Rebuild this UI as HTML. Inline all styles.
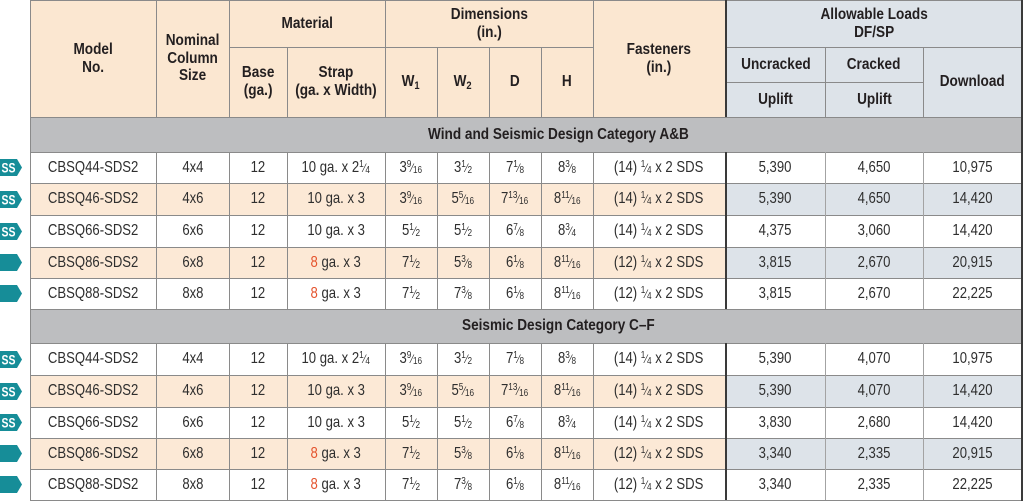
<!DOCTYPE html>
<html><head><meta charset="utf-8"><style>
*{margin:0;padding:0;box-sizing:border-box}
body{width:1024px;height:502px;background:#fff;position:relative;overflow:hidden;font-family:"Liberation Sans",Arial,sans-serif;color:#2e2e2e}
.bg{position:absolute}
.r{position:absolute;left:0;width:1024px}
.c{position:absolute;top:0;bottom:0;display:flex;align-items:center;justify-content:center;text-align:center;font-size:16px;white-space:nowrap}
.c>span{display:inline-block;transform:scaleX(.82);transform-origin:center}
.hd{font-weight:bold;color:#231f20;line-height:18px}
.hd>span{transform:scaleX(.85)}
.m{left:30px;width:126px}.n{left:156px;width:73px}.b{left:229px;width:58px}.s{left:287px;width:98px}
.w1{left:385px;width:52px}.w2{left:437px;width:52px}.d{left:489px;width:52px}.h{left:541px;width:52px}
.f{left:593px;width:132px}.u{left:726px;width:99px}.k{left:825px;width:98px}.dl{left:923px;width:99px}
.hl{position:absolute;height:1px;background:#8a8a8a}
.vl{position:absolute;width:1px;background:#8a8a8a}
.dk{background:#3a3a3a;width:2px}
.lt{background:#a3a3a3}
.fr{font-size:10px}
.fr .nu{position:relative;top:-5px}
.fr .sl{font-size:12px}
.fr .de{position:relative;top:1px}
.red{color:#e5532d}
.sec{font-weight:bold;color:#231f20;font-size:16px}
.ic{position:absolute;left:0}
sub.w{font-size:11px;position:relative;top:3px;vertical-align:baseline}
</style></head><body>

<!-- backgrounds -->
<div class="bg" style="left:30px;top:0;width:695px;height:117px;background:#fbe7d1"></div>
<div class="bg" style="left:725px;top:0;width:297px;height:117px;background:#dde3e9"></div>
<div class="bg" style="left:30px;top:117px;width:992px;height:35px;background:#bdbec0"></div>
<div class="bg" style="left:30px;top:309px;width:992px;height:34px;background:#bdbec0"></div>
<div class="bg" style="left:30px;top:183px;width:695px;height:32px;background:#fce9d6"></div>
<div class="bg" style="left:725px;top:183px;width:297px;height:32px;background:#dde3e9"></div>
<div class="bg" style="left:30px;top:247px;width:695px;height:31px;background:#fce9d6"></div>
<div class="bg" style="left:725px;top:247px;width:297px;height:31px;background:#dde3e9"></div>
<div class="bg" style="left:30px;top:375px;width:695px;height:32px;background:#fce9d6"></div>
<div class="bg" style="left:725px;top:375px;width:297px;height:32px;background:#dde3e9"></div>
<div class="bg" style="left:30px;top:438px;width:695px;height:31px;background:#fce9d6"></div>
<div class="bg" style="left:725px;top:438px;width:297px;height:31px;background:#dde3e9"></div>

<!-- horizontal lines -->
<div class="hl" style="left:30px;width:992px;top:0"></div>
<div class="hl" style="left:229px;width:364px;top:47px"></div>
<div class="hl" style="left:725px;width:297px;top:47px"></div>
<div class="hl" style="left:725px;width:198px;top:82px"></div>
<div class="hl" style="left:30px;width:992px;top:117px"></div>
<div class="hl" style="left:30px;width:992px;top:152px"></div>
<div class="hl" style="left:30px;width:992px;top:183px"></div>
<div class="hl" style="left:30px;width:992px;top:215px"></div>
<div class="hl" style="left:30px;width:992px;top:247px"></div>
<div class="hl" style="left:30px;width:992px;top:278px"></div>
<div class="hl" style="left:30px;width:992px;top:309px"></div>
<div class="hl" style="left:30px;width:992px;top:343px"></div>
<div class="hl" style="left:30px;width:992px;top:375px"></div>
<div class="hl" style="left:30px;width:992px;top:407px"></div>
<div class="hl" style="left:30px;width:992px;top:438px"></div>
<div class="hl" style="left:30px;width:992px;top:469px"></div>
<div class="hl" style="left:30px;width:992px;top:500px"></div>

<!-- vertical lines header -->
<div class="vl" style="left:30px;top:0;height:501px"></div>
<div class="vl" style="left:156px;top:0;height:117px"></div>
<div class="vl" style="left:229px;top:0;height:117px"></div>
<div class="vl" style="left:287px;top:47px;height:70px"></div>
<div class="vl" style="left:385px;top:0;height:117px"></div>
<div class="vl" style="left:437px;top:47px;height:70px"></div>
<div class="vl" style="left:489px;top:47px;height:70px"></div>
<div class="vl" style="left:541px;top:47px;height:70px"></div>
<div class="vl" style="left:593px;top:0;height:117px"></div>
<div class="vl dk" style="left:725px;top:0;height:117px"></div>
<div class="vl" style="left:825px;top:47px;height:70px"></div>
<div class="vl" style="left:923px;top:47px;height:70px"></div>
<div class="vl dk" style="left:1021px;top:0;height:501px"></div>

<!-- vertical lines data 1 -->
<div class="vl" style="left:156px;top:152px;height:157px"></div>
<div class="vl" style="left:229px;top:152px;height:157px"></div>
<div class="vl" style="left:287px;top:152px;height:157px"></div>
<div class="vl" style="left:385px;top:152px;height:157px"></div>
<div class="vl" style="left:437px;top:152px;height:157px"></div>
<div class="vl" style="left:489px;top:152px;height:157px"></div>
<div class="vl" style="left:541px;top:152px;height:157px"></div>
<div class="vl" style="left:593px;top:152px;height:157px"></div>
<div class="vl dk" style="left:725px;top:152px;height:157px"></div>
<div class="vl lt" style="left:825px;top:152px;height:157px"></div>
<div class="vl lt" style="left:923px;top:152px;height:157px"></div>
<!-- vertical lines data 2 -->
<div class="vl" style="left:156px;top:343px;height:157px"></div>
<div class="vl" style="left:229px;top:343px;height:157px"></div>
<div class="vl" style="left:287px;top:343px;height:157px"></div>
<div class="vl" style="left:385px;top:343px;height:157px"></div>
<div class="vl" style="left:437px;top:343px;height:157px"></div>
<div class="vl" style="left:489px;top:343px;height:157px"></div>
<div class="vl" style="left:541px;top:343px;height:157px"></div>
<div class="vl" style="left:593px;top:343px;height:157px"></div>
<div class="vl dk" style="left:725px;top:343px;height:157px"></div>
<div class="vl lt" style="left:825px;top:343px;height:157px"></div>
<div class="vl lt" style="left:923px;top:343px;height:157px"></div>

<!-- header text -->
<div class="r" style="top:0;height:117px">
 <div class="c hd m"><span>Model<br>No.</span></div>
 <div class="c hd n" style="line-height:17.5px"><span>Nominal<br>Column<br>Size</span></div>
 <div class="c hd f"><span>Fasteners<br>(in.)</span></div>
</div>
<div class="r" style="top:0;height:47px">
 <div class="c hd" style="left:229px;width:156px"><span>Material</span></div>
 <div class="c hd" style="left:385px;width:208px"><span>Dimensions<br>(in.)</span></div>
 <div class="c hd" style="left:726px;width:296px"><span>Allowable Loads<br>DF/SP</span></div>
</div>
<div class="r" style="top:47px;height:70px">
 <div class="c hd b"><span>Base<br>(ga.)</span></div>
 <div class="c hd s"><span>Strap<br>(ga. x Width)</span></div>
 <div class="c hd w1"><span>W<sub class="w">1</sub></span></div>
 <div class="c hd w2"><span>W<sub class="w">2</sub></span></div>
 <div class="c hd d"><span>D</span></div>
 <div class="c hd h"><span>H</span></div>
 <div class="c hd dl"><span>Download</span></div>
</div>
<div class="r" style="top:47px;height:35px">
 <div class="c hd u"><span>Uncracked</span></div>
 <div class="c hd k"><span>Cracked</span></div>
</div>
<div class="r" style="top:82px;height:35px">
 <div class="c hd u"><span>Uplift</span></div>
 <div class="c hd k"><span>Uplift</span></div>
</div>

<!-- section headers -->
<div class="r" style="top:117px;height:35px">
 <div class="c sec" style="left:94px;width:928px"><span style="transform:scaleX(.85)">Wind and Seismic Design Category A&amp;B</span></div>
</div>
<div class="r" style="top:309px;height:34px">
 <div class="c sec" style="left:94px;width:928px"><span style="transform:scaleX(.85)">Seismic Design Category C–F</span></div>
</div>

<!-- icons -->
<svg class="ic" style="top:159px" width="23" height="17" viewBox="0 0 23 17"><polygon points="0,0 17,0 22,8.5 17,17 0,17" fill="#168d98"/><text x="8.5" y="13.5" text-anchor="middle" font-family="Liberation Sans, sans-serif" font-weight="bold" font-size="14" fill="#fff" textLength="14" lengthAdjust="spacingAndGlyphs">SS</text></svg>
<svg class="ic" style="top:191px" width="23" height="17" viewBox="0 0 23 17"><polygon points="0,0 17,0 22,8.5 17,17 0,17" fill="#168d98"/><text x="8.5" y="13.5" text-anchor="middle" font-family="Liberation Sans, sans-serif" font-weight="bold" font-size="14" fill="#fff" textLength="14" lengthAdjust="spacingAndGlyphs">SS</text></svg>
<svg class="ic" style="top:223px" width="23" height="17" viewBox="0 0 23 17"><polygon points="0,0 17,0 22,8.5 17,17 0,17" fill="#168d98"/><text x="8.5" y="13.5" text-anchor="middle" font-family="Liberation Sans, sans-serif" font-weight="bold" font-size="14" fill="#fff" textLength="14" lengthAdjust="spacingAndGlyphs">SS</text></svg>
<svg class="ic" style="top:254px" width="23" height="17" viewBox="0 0 23 17"><polygon points="0,0 17,0 22,8.5 17,17 0,17" fill="#168d98"/></svg>
<svg class="ic" style="top:285px" width="23" height="17" viewBox="0 0 23 17"><polygon points="0,0 17,0 22,8.5 17,17 0,17" fill="#168d98"/></svg>
<svg class="ic" style="top:351px" width="23" height="17" viewBox="0 0 23 17"><polygon points="0,0 17,0 22,8.5 17,17 0,17" fill="#168d98"/><text x="8.5" y="13.5" text-anchor="middle" font-family="Liberation Sans, sans-serif" font-weight="bold" font-size="14" fill="#fff" textLength="14" lengthAdjust="spacingAndGlyphs">SS</text></svg>
<svg class="ic" style="top:383px" width="23" height="17" viewBox="0 0 23 17"><polygon points="0,0 17,0 22,8.5 17,17 0,17" fill="#168d98"/><text x="8.5" y="13.5" text-anchor="middle" font-family="Liberation Sans, sans-serif" font-weight="bold" font-size="14" fill="#fff" textLength="14" lengthAdjust="spacingAndGlyphs">SS</text></svg>
<svg class="ic" style="top:414px" width="23" height="17" viewBox="0 0 23 17"><polygon points="0,0 17,0 22,8.5 17,17 0,17" fill="#168d98"/><text x="8.5" y="13.5" text-anchor="middle" font-family="Liberation Sans, sans-serif" font-weight="bold" font-size="14" fill="#fff" textLength="14" lengthAdjust="spacingAndGlyphs">SS</text></svg>
<svg class="ic" style="top:445px" width="23" height="17" viewBox="0 0 23 17"><polygon points="0,0 17,0 22,8.5 17,17 0,17" fill="#168d98"/></svg>
<svg class="ic" style="top:476px" width="23" height="17" viewBox="0 0 23 17"><polygon points="0,0 17,0 22,8.5 17,17 0,17" fill="#168d98"/></svg>

<!-- section 1 data -->
<div class="r" style="top:152px;height:31px">
 <div class="c m"><span>CBSQ44-SDS2</span></div><div class="c n"><span>4x4</span></div><div class="c b"><span>12</span></div>
 <div class="c s"><span>10 ga. x 2<span class="fr"><span class="nu">1</span><span class="sl">⁄</span><span class="de">4</span></span></span></div>
 <div class="c w1"><span>3<span class="fr"><span class="nu">9</span><span class="sl">⁄</span><span class="de">16</span></span></span></div>
 <div class="c w2"><span>3<span class="fr"><span class="nu">1</span><span class="sl">⁄</span><span class="de">2</span></span></span></div>
 <div class="c d"><span>7<span class="fr"><span class="nu">1</span><span class="sl">⁄</span><span class="de">8</span></span></span></div>
 <div class="c h"><span>8<span class="fr"><span class="nu">3</span><span class="sl">⁄</span><span class="de">8</span></span></span></div>
 <div class="c f"><span>(14) <span class="fr"><span class="nu">1</span><span class="sl">⁄</span><span class="de">4</span></span> x 2 SDS</span></div>
 <div class="c u"><span>5,390</span></div><div class="c k"><span>4,650</span></div><div class="c dl"><span>10,975</span></div>
</div>
<div class="r" style="top:183px;height:32px">
 <div class="c m"><span>CBSQ46-SDS2</span></div><div class="c n"><span>4x6</span></div><div class="c b"><span>12</span></div>
 <div class="c s"><span>10 ga. x 3</span></div>
 <div class="c w1"><span>3<span class="fr"><span class="nu">9</span><span class="sl">⁄</span><span class="de">16</span></span></span></div>
 <div class="c w2"><span>5<span class="fr"><span class="nu">5</span><span class="sl">⁄</span><span class="de">16</span></span></span></div>
 <div class="c d"><span>7<span class="fr"><span class="nu">13</span><span class="sl">⁄</span><span class="de">16</span></span></span></div>
 <div class="c h"><span>8<span class="fr"><span class="nu">11</span><span class="sl">⁄</span><span class="de">16</span></span></span></div>
 <div class="c f"><span>(14) <span class="fr"><span class="nu">1</span><span class="sl">⁄</span><span class="de">4</span></span> x 2 SDS</span></div>
 <div class="c u"><span>5,390</span></div><div class="c k"><span>4,650</span></div><div class="c dl"><span>14,420</span></div>
</div>
<div class="r" style="top:215px;height:32px">
 <div class="c m"><span>CBSQ66-SDS2</span></div><div class="c n"><span>6x6</span></div><div class="c b"><span>12</span></div>
 <div class="c s"><span>10 ga. x 3</span></div>
 <div class="c w1"><span>5<span class="fr"><span class="nu">1</span><span class="sl">⁄</span><span class="de">2</span></span></span></div>
 <div class="c w2"><span>5<span class="fr"><span class="nu">1</span><span class="sl">⁄</span><span class="de">2</span></span></span></div>
 <div class="c d"><span>6<span class="fr"><span class="nu">7</span><span class="sl">⁄</span><span class="de">8</span></span></span></div>
 <div class="c h"><span>8<span class="fr"><span class="nu">3</span><span class="sl">⁄</span><span class="de">4</span></span></span></div>
 <div class="c f"><span>(14) <span class="fr"><span class="nu">1</span><span class="sl">⁄</span><span class="de">4</span></span> x 2 SDS</span></div>
 <div class="c u"><span>4,375</span></div><div class="c k"><span>3,060</span></div><div class="c dl"><span>14,420</span></div>
</div>
<div class="r" style="top:247px;height:31px">
 <div class="c m"><span>CBSQ86-SDS2</span></div><div class="c n"><span>6x8</span></div><div class="c b"><span>12</span></div>
 <div class="c s"><span><span class="red">8</span> ga. x 3</span></div>
 <div class="c w1"><span>7<span class="fr"><span class="nu">1</span><span class="sl">⁄</span><span class="de">2</span></span></span></div>
 <div class="c w2"><span>5<span class="fr"><span class="nu">3</span><span class="sl">⁄</span><span class="de">8</span></span></span></div>
 <div class="c d"><span>6<span class="fr"><span class="nu">1</span><span class="sl">⁄</span><span class="de">8</span></span></span></div>
 <div class="c h"><span>8<span class="fr"><span class="nu">11</span><span class="sl">⁄</span><span class="de">16</span></span></span></div>
 <div class="c f"><span>(12) <span class="fr"><span class="nu">1</span><span class="sl">⁄</span><span class="de">4</span></span> x 2 SDS</span></div>
 <div class="c u"><span>3,815</span></div><div class="c k"><span>2,670</span></div><div class="c dl"><span>20,915</span></div>
</div>
<div class="r" style="top:278px;height:31px">
 <div class="c m"><span>CBSQ88-SDS2</span></div><div class="c n"><span>8x8</span></div><div class="c b"><span>12</span></div>
 <div class="c s"><span><span class="red">8</span> ga. x 3</span></div>
 <div class="c w1"><span>7<span class="fr"><span class="nu">1</span><span class="sl">⁄</span><span class="de">2</span></span></span></div>
 <div class="c w2"><span>7<span class="fr"><span class="nu">3</span><span class="sl">⁄</span><span class="de">8</span></span></span></div>
 <div class="c d"><span>6<span class="fr"><span class="nu">1</span><span class="sl">⁄</span><span class="de">8</span></span></span></div>
 <div class="c h"><span>8<span class="fr"><span class="nu">11</span><span class="sl">⁄</span><span class="de">16</span></span></span></div>
 <div class="c f"><span>(12) <span class="fr"><span class="nu">1</span><span class="sl">⁄</span><span class="de">4</span></span> x 2 SDS</span></div>
 <div class="c u"><span>3,815</span></div><div class="c k"><span>2,670</span></div><div class="c dl"><span>22,225</span></div>
</div>

<!-- section 2 data -->
<div class="r" style="top:343px;height:32px">
 <div class="c m"><span>CBSQ44-SDS2</span></div><div class="c n"><span>4x4</span></div><div class="c b"><span>12</span></div>
 <div class="c s"><span>10 ga. x 2<span class="fr"><span class="nu">1</span><span class="sl">⁄</span><span class="de">4</span></span></span></div>
 <div class="c w1"><span>3<span class="fr"><span class="nu">9</span><span class="sl">⁄</span><span class="de">16</span></span></span></div>
 <div class="c w2"><span>3<span class="fr"><span class="nu">1</span><span class="sl">⁄</span><span class="de">2</span></span></span></div>
 <div class="c d"><span>7<span class="fr"><span class="nu">1</span><span class="sl">⁄</span><span class="de">8</span></span></span></div>
 <div class="c h"><span>8<span class="fr"><span class="nu">3</span><span class="sl">⁄</span><span class="de">8</span></span></span></div>
 <div class="c f"><span>(14) <span class="fr"><span class="nu">1</span><span class="sl">⁄</span><span class="de">4</span></span> x 2 SDS</span></div>
 <div class="c u"><span>5,390</span></div><div class="c k"><span>4,070</span></div><div class="c dl"><span>10,975</span></div>
</div>
<div class="r" style="top:375px;height:32px">
 <div class="c m"><span>CBSQ46-SDS2</span></div><div class="c n"><span>4x6</span></div><div class="c b"><span>12</span></div>
 <div class="c s"><span>10 ga. x 3</span></div>
 <div class="c w1"><span>3<span class="fr"><span class="nu">9</span><span class="sl">⁄</span><span class="de">16</span></span></span></div>
 <div class="c w2"><span>5<span class="fr"><span class="nu">5</span><span class="sl">⁄</span><span class="de">16</span></span></span></div>
 <div class="c d"><span>7<span class="fr"><span class="nu">13</span><span class="sl">⁄</span><span class="de">16</span></span></span></div>
 <div class="c h"><span>8<span class="fr"><span class="nu">11</span><span class="sl">⁄</span><span class="de">16</span></span></span></div>
 <div class="c f"><span>(14) <span class="fr"><span class="nu">1</span><span class="sl">⁄</span><span class="de">4</span></span> x 2 SDS</span></div>
 <div class="c u"><span>5,390</span></div><div class="c k"><span>4,070</span></div><div class="c dl"><span>14,420</span></div>
</div>
<div class="r" style="top:407px;height:31px">
 <div class="c m"><span>CBSQ66-SDS2</span></div><div class="c n"><span>6x6</span></div><div class="c b"><span>12</span></div>
 <div class="c s"><span>10 ga. x 3</span></div>
 <div class="c w1"><span>5<span class="fr"><span class="nu">1</span><span class="sl">⁄</span><span class="de">2</span></span></span></div>
 <div class="c w2"><span>5<span class="fr"><span class="nu">1</span><span class="sl">⁄</span><span class="de">2</span></span></span></div>
 <div class="c d"><span>6<span class="fr"><span class="nu">7</span><span class="sl">⁄</span><span class="de">8</span></span></span></div>
 <div class="c h"><span>8<span class="fr"><span class="nu">3</span><span class="sl">⁄</span><span class="de">4</span></span></span></div>
 <div class="c f"><span>(14) <span class="fr"><span class="nu">1</span><span class="sl">⁄</span><span class="de">4</span></span> x 2 SDS</span></div>
 <div class="c u"><span>3,830</span></div><div class="c k"><span>2,680</span></div><div class="c dl"><span>14,420</span></div>
</div>
<div class="r" style="top:438px;height:31px">
 <div class="c m"><span>CBSQ86-SDS2</span></div><div class="c n"><span>6x8</span></div><div class="c b"><span>12</span></div>
 <div class="c s"><span><span class="red">8</span> ga. x 3</span></div>
 <div class="c w1"><span>7<span class="fr"><span class="nu">1</span><span class="sl">⁄</span><span class="de">2</span></span></span></div>
 <div class="c w2"><span>5<span class="fr"><span class="nu">3</span><span class="sl">⁄</span><span class="de">8</span></span></span></div>
 <div class="c d"><span>6<span class="fr"><span class="nu">1</span><span class="sl">⁄</span><span class="de">8</span></span></span></div>
 <div class="c h"><span>8<span class="fr"><span class="nu">11</span><span class="sl">⁄</span><span class="de">16</span></span></span></div>
 <div class="c f"><span>(12) <span class="fr"><span class="nu">1</span><span class="sl">⁄</span><span class="de">4</span></span> x 2 SDS</span></div>
 <div class="c u"><span>3,340</span></div><div class="c k"><span>2,335</span></div><div class="c dl"><span>20,915</span></div>
</div>
<div class="r" style="top:469px;height:31px">
 <div class="c m"><span>CBSQ88-SDS2</span></div><div class="c n"><span>8x8</span></div><div class="c b"><span>12</span></div>
 <div class="c s"><span><span class="red">8</span> ga. x 3</span></div>
 <div class="c w1"><span>7<span class="fr"><span class="nu">1</span><span class="sl">⁄</span><span class="de">2</span></span></span></div>
 <div class="c w2"><span>7<span class="fr"><span class="nu">3</span><span class="sl">⁄</span><span class="de">8</span></span></span></div>
 <div class="c d"><span>6<span class="fr"><span class="nu">1</span><span class="sl">⁄</span><span class="de">8</span></span></span></div>
 <div class="c h"><span>8<span class="fr"><span class="nu">11</span><span class="sl">⁄</span><span class="de">16</span></span></span></div>
 <div class="c f"><span>(12) <span class="fr"><span class="nu">1</span><span class="sl">⁄</span><span class="de">4</span></span> x 2 SDS</span></div>
 <div class="c u"><span>3,340</span></div><div class="c k"><span>2,335</span></div><div class="c dl"><span>22,225</span></div>
</div>

</body></html>
